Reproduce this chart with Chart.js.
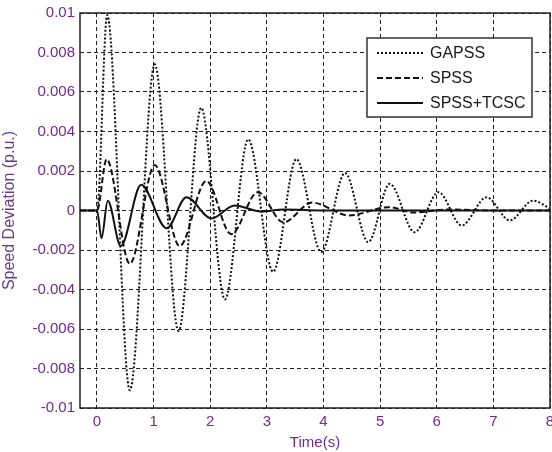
<!DOCTYPE html>
<html>
<head>
<meta charset="utf-8">
<script src="https://cdn.jsdelivr.net/npm/chart.js@4.4.0/dist/chart.umd.min.js"></script>
<style>
  body { margin: 0; background: #fff; }
</style>
</head>
<body>
<canvas id="myChart" width="552" height="452"></canvas>
<script>
// values (time in s, deviation in p.u.)
const gapssTime = [-0.3, 0, 0.18, 0.58, 1.02, 1.44, 1.84, 2.26, 2.67, 3.11, 3.52, 3.96, 4.38, 4.79, 5.17, 5.61, 6.03, 6.44, 6.88, 7.29, 7.7, 8.0];
const gapssValues = [0, 0, 0.0099, -0.0091, 0.0074, -0.0061, 0.0052, -0.0045, 0.0036, -0.0031, 0.0026, -0.0021, 0.0019, -0.0016, 0.00135, -0.0011, 0.00093, -0.00076, 0.00067, -0.0005, 0.0005, 0.0001];

const spssTime = [-0.3, 0, 0.17, 0.58, 1.02, 1.46, 1.93, 2.37, 2.84, 3.29, 3.8, 4.45, 5.15, 5.6, 6.2, 7.0, 8.0];
const spssValues = [0, 0, 0.0026, -0.0027, 0.0023, -0.0018, 0.0015, -0.0012, 0.00093, -0.0006, 0.0004, -0.00025, 0.00017, -0.0001, 0.00005, 0, 0];

const tcscTime = [-0.3, 0, 0.08, 0.19, 0.42, 0.78, 1.23, 1.58, 2.02, 2.43, 2.9, 3.3, 4.0, 8.0];
const tcscValues = [0, 0, -0.0014, 0.0005, -0.0018, 0.0013, -0.0009, 0.00067, -0.0004, 0.00025, -0.00005, 0.00005, 0, 0];

const seriesNames = ["GAPSS", "SPSS", "SPSS+TCSC"];

const xTicks = [0, 1, 2, 3, 4, 5, 6, 7, 8];
const xTickLabels = ["0", "1", "2", "3", "4", "5", "6", "7", "8"];
const yTicks = [-0.01, -0.008, -0.006, -0.004, -0.002, 0, 0.002, 0.004, 0.006, 0.008, 0.01];
const yTickLabels = ["-0.01", "-0.008", "-0.006", "-0.004", "-0.002", "0", "0.002", "0.004", "0.006", "0.008", "0.01"];

function toPoints(times, values) {
  return times.map(function (t, i) {
    return { x: t, y: values[i] };
  });
}

const labelColor = "#74288a";
const fontFamily = "'Liberation Sans', Arial, sans-serif";

const datasets = [
  {
    label: seriesNames[0],
    data: toPoints(gapssTime, gapssValues),
    borderColor: "#111",
    borderWidth: 2,
    borderDash: [2, 2],
  },
  {
    label: seriesNames[1],
    data: toPoints(spssTime, spssValues),
    borderColor: "#111",
    borderWidth: 2,
    borderDash: [6, 3],
  },
  {
    label: seriesNames[2],
    data: toPoints(tcscTime, tcscValues),
    borderColor: "#111",
    borderWidth: 2,
    borderDash: [],
  },
];

// frame round the plot and the boxed legend in the top right
const framePlugin = {
  id: "frame",
  afterDraw(chart) {
    const ctx = chart.ctx;
    const a = chart.chartArea;
    ctx.save();
    ctx.strokeStyle = "#222";
    ctx.lineWidth = 1.5;
    ctx.setLineDash([]);
    ctx.strokeRect(a.left, a.top, a.right - a.left, a.bottom - a.top);

    const bx = 367, by = 38, bw = 165, bh = 79;
    ctx.fillStyle = "#fff";
    ctx.fillRect(bx, by, bw, bh);
    ctx.lineWidth = 1.5;
    ctx.strokeStyle = "#333";
    ctx.strokeRect(bx, by, bw, bh);

    ctx.font = "16px " + fontFamily;
    ctx.textBaseline = "middle";
    ctx.fillStyle = "#1a1a1a";
    chart.data.datasets.forEach(function (ds, i) {
      const y = by + 15 + i * 25;
      ctx.beginPath();
      ctx.setLineDash(ds.borderDash);
      ctx.lineWidth = 2;
      ctx.strokeStyle = "#111";
      ctx.moveTo(bx + 10, y);
      ctx.lineTo(bx + 56, y);
      ctx.stroke();
      ctx.setLineDash([]);
      ctx.fillText(ds.label, bx + 63, y + 1);
    });
    ctx.restore();
  },
};

const config = {
  type: "line",
  data: { datasets },
  options: {
    responsive: false,
    animation: false,
    layout: { padding: { top: 13, right: 2, left: 0, bottom: 0 } },
    elements: {
      point: { radius: 0 },
      line: { cubicInterpolationMode: "monotone", borderCapStyle: "butt" },
    },
    plugins: {
      legend: { display: false },
      tooltip: { enabled: false },
    },
    scales: {
      x: {
        type: "linear",
        min: -0.3,
        max: 8,
        afterBuildTicks(scale) {
          scale.ticks = xTicks.map(function (v) { return { value: v }; });
        },
        afterFit(scale) {
          scale.height = 44;
          scale.paddingLeft = 0;
          scale.paddingRight = 0;
        },
        ticks: {
          color: labelColor,
          font: { family: fontFamily, size: 15 },
          padding: 5,
          maxRotation: 0,
          callback: function (value, index) { return xTickLabels[index]; },
        },
        grid: {
          color: "#222",
          lineWidth: 1,
          drawTicks: false,
          tickBorderDash: [4, 3],
        },
        border: { display: false, dash: [4, 3] },
        title: {
          display: true,
          text: "Time(s)",
          color: labelColor,
          font: { family: fontFamily, size: 15 },
          padding: { top: 0, bottom: 0 },
        },
      },
      y: {
        min: -0.01,
        max: 0.01,
        afterBuildTicks(scale) {
          scale.ticks = yTicks.map(function (v) { return { value: v }; });
        },
        afterFit(scale) {
          scale.width = 80;
          scale.paddingTop = 0;
          scale.paddingBottom = 0;
        },
        ticks: {
          color: labelColor,
          font: { family: fontFamily, size: 15 },
          padding: 5,
          callback: function (value, index) { return yTickLabels[index]; },
        },
        grid: {
          color: "#222",
          lineWidth: 1,
          drawTicks: false,
        },
        border: { display: false, dash: [4, 3] },
        title: {
          display: true,
          text: "Speed Deviation (p.u.)",
          color: "#6a3a82",
          font: { family: fontFamily, size: 16 },
          padding: { top: 0, bottom: 0 },
        },
      },
    },
  },
  plugins: [framePlugin],
};

const myChart = document.getElementById("myChart");
new Chart(myChart, config);
</script>
</body>
</html>
